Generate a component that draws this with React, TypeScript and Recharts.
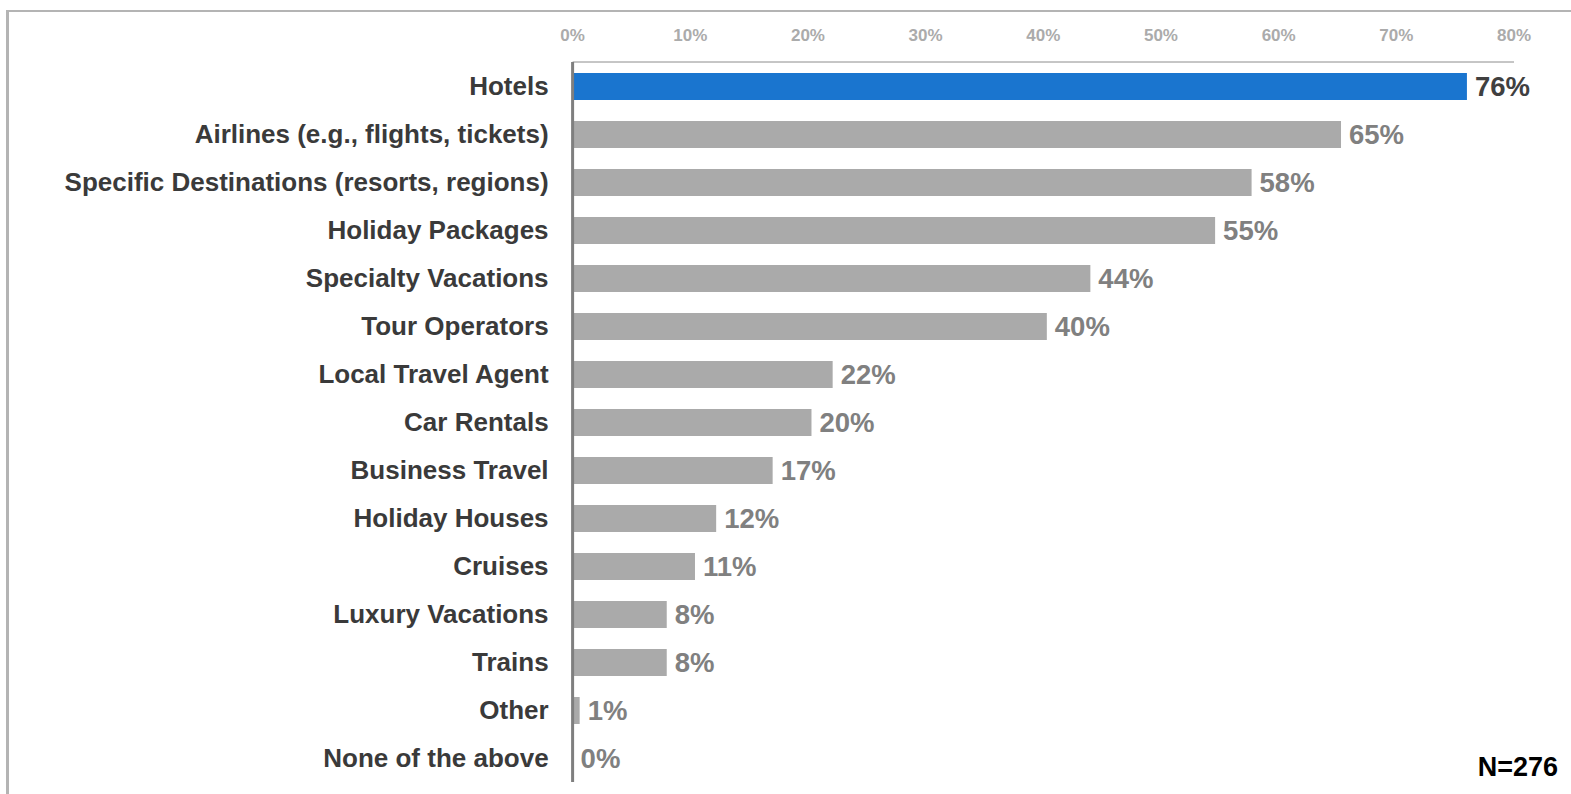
import React from 'react';
import { BarChart, Bar, XAxis, YAxis, Cell, LabelList } from 'recharts';

const categories = [
  'Hotels',
  'Airlines (e.g., flights, tickets)',
  'Specific Destinations (resorts, regions)',
  'Holiday Packages',
  'Specialty Vacations',
  'Tour Operators',
  'Local Travel Agent',
  'Car Rentals ',
  'Business Travel',
  'Holiday Houses',
  'Cruises ',
  'Luxury Vacations',
  'Trains',
  'Other',
  'None of the above',
];

// bar lengths as measured, labels as printed
const shares = [76, 65.3, 57.7, 54.6, 44, 40.3, 22.1, 20.3, 17, 12.2, 10.4, 8, 8, 0.6, 0];
const shareLabels = ['76%', '65%', '58%', '55%', '44%', '40%', '22%', '20%', '17%', '12%', '11%', '8%', '8%', '1%', '0%'];

const xTicks = [0, 10, 20, 30, 40, 50, 60, 70, 80];

const sampleNote = 'N=276';

const data = categories.map((name, i) => ({
  name,
  share: shares[i],
  label: shareLabels[i],
}));

const FONT = 'Arial, "Liberation Sans", sans-serif';
const BLUE = '#1a75cf';
const GREY_BAR = '#aaaaaa';

const renderValue = (props: any) => {
  const { x, y, width, height, value, index } = props;
  const first = index === 0;
  return (
    <text
      x={Number(x) + Number(width) + 8}
      y={Number(y) + Number(height) / 2}
      dominantBaseline="central"
      fontFamily={FONT}
      fontWeight="bold"
      fontSize={27.5}
      fill={first ? '#404040' : '#808080'}
    >
      {value}
    </text>
  );
};

export default function App() {
  return (
    <div
      style={{
        position: 'relative',
        width: 1571,
        height: 794,
        overflow: 'hidden',
        background: '#fff',
        fontFamily: FONT,
      }}
    >
      <style>{`body{margin:0;overflow:hidden;}`}</style>
      <div
        style={{
          position: 'absolute',
          left: 6,
          top: 10,
          width: 2000,
          height: 2000,
          borderTop: '2px solid #b4b4b4',
          borderLeft: '3px solid #b4b4b4',
        }}
      />
      <div style={{ position: 'absolute', left: 0, top: 0 }}>
        <BarChart
          width={1571}
          height={794}
          data={data}
          layout="vertical"
          margin={{ top: 0, right: 57, left: 0, bottom: 12 }}
        >
          <XAxis
            type="number"
            orientation="top"
            domain={[0, 80]}
            ticks={xTicks}
            tickFormatter={(v) => `${v}%`}
            height={62}
            tickLine={false}
            tickSize={0}
            tickMargin={21}
            axisLine={{ stroke: '#8c8c8c', strokeWidth: 1 }}
            tick={{ fontFamily: FONT, fontSize: 17, fontWeight: 'bold', fill: '#ababab' }}
          />
          <YAxis
            type="category"
            dataKey="name"
            width={572.6}
            tickLine={false}
            tickSize={0}
            tickMargin={24}
            interval={0}
            axisLine={{ stroke: '#7f7f7f', strokeWidth: 3 }}
            tick={{ fontFamily: FONT, fontSize: 26, fontWeight: 'bold', fill: '#3a3a3a' }}
          />
          <Bar dataKey="share" barSize={27} minPointSize={0.01} isAnimationActive={false}>
            {data.map((d, i) => (
              <Cell key={d.name} fill={i === 0 ? BLUE : GREY_BAR} />
            ))}
            <LabelList dataKey="label" content={renderValue} />
          </Bar>
        </BarChart>
      </div>
      <div
        style={{
          position: 'absolute',
          right: 13,
          top: 754,
          fontSize: 27,
          lineHeight: '27px',
          fontWeight: 'bold',
          color: '#000',
        }}
      >
        {sampleNote}
      </div>
    </div>
  );
}
